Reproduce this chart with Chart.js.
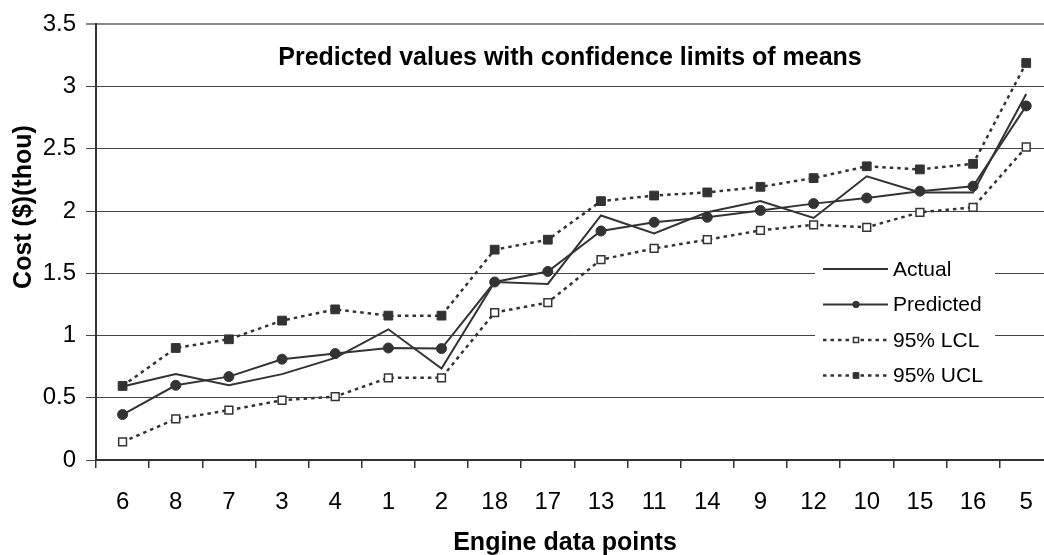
<!DOCTYPE html>
<html>
<head>
<meta charset="utf-8">
<title>Predicted values with confidence limits of means</title>
<script src="https://cdn.jsdelivr.net/npm/chart.js@4.4.0/dist/chart.umd.min.js"></script>
<style>
  html, body { margin: 0; padding: 0; background: #fff; overflow: hidden; }
  #wrap { width: 1060px; height: 555px; }
</style>
</head>
<body>
<div id="wrap"><canvas id="cost-canvas" width="1060" height="555"></canvas></div>
<script>
// Engine data points, sorted by predicted cost
const engineLabels = ['6', '8', '7', '3', '4', '1', '2', '18', '17', '13', '11', '14', '9', '12', '10', '15', '16', '5'];

// Cost ($ thousands)
const actualCost    = [0.59, 0.69, 0.60, 0.69, 0.82, 1.05, 0.735, 1.43, 1.415, 1.965, 1.82, 1.99, 2.08, 1.945, 2.28, 2.15, 2.15, 2.94];
const predictedCost = [0.365, 0.60, 0.67, 0.81, 0.855, 0.90, 0.895, 1.43, 1.515, 1.84, 1.91, 1.95, 2.005, 2.06, 2.105, 2.16, 2.20, 2.845];
const lowerLimit    = [0.145, 0.33, 0.40, 0.48, 0.51, 0.66, 0.66, 1.185, 1.265, 1.61, 1.70, 1.77, 1.845, 1.89, 1.87, 1.99, 2.03, 2.515];
const upperLimit    = [0.595, 0.90, 0.97, 1.12, 1.21, 1.16, 1.16, 1.69, 1.77, 2.08, 2.125, 2.15, 2.195, 2.265, 2.36, 2.335, 2.38, 3.19];

// y axis range / tick step
const yMin = 0;
const yMax = 3.5;
const yStep = 0.5;

const chartTitle = 'Predicted values with confidence limits of means';
const xTitle = 'Engine data points';
const yTitle = 'Cost ($)(thou)';

const INK = '#333';
const FONT = "'Liberation Sans', Arial, Helvetica, sans-serif";

Chart.defaults.font.family = FONT;
Chart.defaults.color = '#000';

// small marker for the legend rows
function drawMarker(ctx, ds, x, y, scale) {
  const r = ds.pointRadius * scale;
  if (!r) return;
  ctx.fillStyle = ds.pointBackgroundColor;
  ctx.strokeStyle = ds.pointBorderColor;
  ctx.lineWidth = ds.pointBorderWidth || 1;
  ctx.beginPath();
  if (ds.pointStyle === 'rect') {
    const s = Math.SQRT1_2 * r;
    ctx.rect(x - s, y - s, 2 * s, 2 * s);
  } else {
    ctx.arc(x, y, r, 0, Math.PI * 2);
  }
  ctx.fill();
  ctx.stroke();
}

// Legend sits inside the plot, so it is drawn by hand
function drawLegend(chart) {
  const { ctx } = chart;
  ctx.save();
  ctx.fillStyle = '#fff';
  ctx.fillRect(815, 250, 180, 142);
  chart.data.datasets.forEach((ds, i) => {
    const y = 269 + i * 35.5;
    ctx.strokeStyle = ds.borderColor;
    ctx.lineWidth = ds.borderWidth;
    ctx.setLineDash(ds.borderDash || []);
    ctx.beginPath();
    ctx.moveTo(823, y);
    ctx.lineTo(888, y);
    ctx.stroke();
    ctx.setLineDash([]);
    drawMarker(ctx, ds, 856, y, 0.65);
    ctx.fillStyle = '#000';
    ctx.font = `21px ${FONT}`;
    ctx.textAlign = 'left';
    ctx.textBaseline = 'middle';
    ctx.fillText(ds.label, 893, y + 1);
  });
  ctx.restore();
}

const annotate = {
  id: 'annotate',
  afterDraw(chart) {
    const { ctx } = chart;
    ctx.save();
    ctx.fillStyle = '#000';
    ctx.font = `bold 25px ${FONT}`;
    ctx.textAlign = 'center';
    ctx.textBaseline = 'alphabetic';
    ctx.fillText(chartTitle, 570, 65);
    ctx.fillText(xTitle, 565, 550);
    ctx.translate(31, 207);
    ctx.rotate(-Math.PI / 2);
    ctx.fillText(yTitle, 0, 0);
    ctx.restore();
    drawLegend(chart);
  },
};

new Chart(document.getElementById('cost-canvas'), {
  type: 'line',
  data: {
    labels: engineLabels,
    datasets: [
      {
        label: 'Actual',
        data: actualCost,
        borderColor: INK,
        borderWidth: 2,
        pointRadius: 0,
      },
      {
        label: 'Predicted',
        data: predictedCost,
        borderColor: INK,
        borderWidth: 2,
        pointStyle: 'circle',
        pointRadius: 5,
        pointBackgroundColor: INK,
        pointBorderColor: INK,
        pointBorderWidth: 1,
      },
      {
        label: '95% LCL',
        data: lowerLimit,
        borderColor: INK,
        borderWidth: 2.5,
        borderDash: [3.5, 4],
        pointStyle: 'rect',
        pointRadius: 5.5,
        pointBackgroundColor: '#fff',
        pointBorderColor: INK,
        pointBorderWidth: 1.5,
      },
      {
        label: '95% UCL',
        data: upperLimit,
        borderColor: INK,
        borderWidth: 2.5,
        borderDash: [3.5, 4],
        pointStyle: 'rect',
        pointRadius: 6.2,
        pointBackgroundColor: INK,
        pointBorderColor: INK,
        pointBorderWidth: 1,
      },
    ],
  },
  options: {
    responsive: false,
    animation: false,
    layout: { padding: { top: 20, right: 4, left: 0, bottom: 0 } },
    elements: { line: { tension: 0 } },
    scales: {
      x: {
        type: 'category',
        offset: true,
        grid: { offset: true, drawOnChartArea: false, tickLength: 8, color: INK, lineWidth: 1.5 },
        border: { display: true, color: INK, width: 2 },
        ticks: { font: { size: 24 }, color: '#000', padding: 20, maxRotation: 0, autoSkip: false },
        afterFit: (s) => { s.height = 95; },
      },
      y: {
        min: yMin,
        max: yMax,
        ticks: {
          stepSize: yStep,
          font: { size: 24 },
          color: '#000',
          padding: 10,
          callback: (v) => String(v),
        },
        grid: {
          color: (c) => (c.tick && c.tick.value === yMax ? '#888' : '#444'),
          lineWidth: (c) => (c.tick && c.tick.value === yMax ? 2 : 1),
          tickLength: 10,
        },
        border: { color: INK, width: 2 },
        afterFit: (s) => { s.width = 96; },
      },
    },
    plugins: {
      legend: { display: false },
      tooltip: { enabled: false },
    },
  },
  plugins: [annotate],
});
</script>
</body>
</html>
